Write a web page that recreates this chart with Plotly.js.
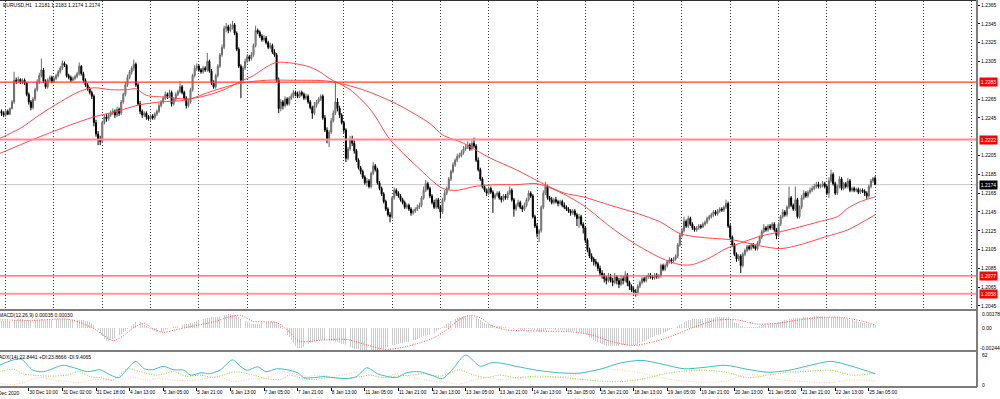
<!DOCTYPE html>
<html><head><meta charset="utf-8">
<script src="https://cdn.plot.ly/plotly-3.0.1.min.js"></script>
<style>html,body{margin:0;padding:0;background:#fff;overflow:hidden}#chart{width:1000px;height:399px}</style>
</head><body><div id="chart"></div>
<script>
// ---- price data (H1 bars), values in pips above 1.2000 ----
const BASE = 1.2, PIP = 0.0001;
const openPips = [
252,250,248,252,249,255,262,285,284,286, 283,285,282,270,262,256,265,275,283,290,
296,284,278,285,288,284,287,290,294,298, 303,301,290,288,285,287,289,292,300,292,
285,280,276,272,268,240,228,222,220,240, 246,244,248,250,252,248,254,250,262,270,
280,288,294,298,302,280,260,252,248,250, 246,244,247,245,249,252,258,262,266,270,
268,272,260,265,270,273,278,272,266,258, 262,275,290,298,300,296,294,298,296,305,
295,282,278,290,300,312,320,340,342,338, 341,344,335,318,300,285,298,305,310,308,
312,322,338,336,332,328,330,325,320,322, 315,312,285,255,262,258,265,260,266,268,
272,270,268,272,270,266,268,262,256,250, 258,262,265,268,245,232,222,230,242,250,
262,255,248,240,232,202,212,222,218,210, 200,192,188,182,176,178,172,186,194,190,
176,170,164,156,148,142,140,160,168,165, 162,158,155,150,152,148,144,146,148,150,
152,160,168,175,170,162,155,150,158,150, 145,158,165,170,180,188,195,200,204,205,
208,212,214,216,212,218,215,200,190,180, 172,168,165,170,166,160,163,165,160,158,
162,160,165,168,158,148,152,155,150,148, 152,158,165,162,140,130,122,125,150,165,
172,160,158,155,158,156,154,156,152,150, 148,146,144,146,142,138,140,132,128,115,
105,98,95,92,90,85,80,78,74,72, 76,72,70,76,72,68,74,72,78,70,
66,62,60,58,66,70,74,72,76,78, 76,75,78,76,77,88,84,88,92,94,
93,95,98,110,120,125,135,130,138,132, 128,126,128,130,129,132,134,138,140,142,
145,143,146,148,147,150,154,130,118,110, 100,95,98,88,100,104,108,106,110,108,
106,112,118,124,128,126,130,128,132,126, 120,132,140,145,142,150,160,152,148,158,
140,150,160,165,162,166,168,170,172,174, 172,173,175,172,165,178,185,175,165,172,
180,170,175,172,178,168,170,168,169,166, 168,167,165,162,172,178,181];
const highPips = [
254,252,253,254,256,264,294,288,289,287, 287,287,283,272,264,267,277,286,293,308,
298,286,287,290,290,289,292,296,300,306, 305,302,292,290,289,291,294,304,301,294,
287,282,278,274,270,243,231,226,242,248, 249,250,253,255,254,257,256,264,272,283,
291,296,300,307,304,282,263,254,252,252, 248,249,249,251,254,261,264,268,273,272,
275,274,267,272,275,284,280,274,268,264, 277,292,301,303,302,298,300,300,314,307,
297,285,292,302,314,323,343,346,344,345, 348,346,337,320,302,300,308,313,312,315,
324,343,340,338,334,333,332,327,325,324, 318,314,288,265,264,268,267,268,271,275,
274,273,274,274,272,271,270,264,258,262, 264,267,270,270,248,235,232,245,253,283,
266,258,250,242,234,214,226,226,221,212, 202,194,190,184,181,180,188,198,196,192,
178,172,166,158,150,145,162,171,170,167, 164,160,157,154,154,150,148,150,153,155,
162,172,179,177,172,164,158,160,160,152, 160,168,172,182,190,198,202,207,208,211,
215,217,220,218,221,224,217,203,192,182, 174,170,172,172,168,165,167,167,162,164,
164,167,172,170,160,154,158,157,152,155, 160,168,167,164,142,133,127,152,168,177,
174,162,161,160,161,158,158,158,155,152, 150,148,148,148,144,143,142,134,130,117,
107,101,97,95,92,88,83,80,77,80, 79,75,80,78,75,78,77,82,80,72,
68,65,63,68,72,76,76,78,80,80, 78,80,80,79,90,90,90,94,97,96,
97,100,112,123,128,140,137,141,140,134, 130,130,132,132,134,136,140,142,144,147,
147,148,150,150,152,158,156,132,120,112, 102,100,100,102,106,110,110,112,112,110,
114,120,126,132,130,132,132,134,134,128, 134,142,148,147,152,172,162,154,172,160,
152,163,168,167,168,171,173,175,177,177, 175,178,177,174,182,190,187,177,174,183,
182,177,177,181,180,172,172,171,171,170, 170,169,167,174,180,182,183];
const lowPips = [
247,246,246,248,248,254,260,281,282,281, 281,280,268,259,253,254,263,273,281,288,
282,276,276,283,282,282,285,288,292,296, 299,288,286,283,284,285,287,290,290,283,
278,274,270,265,236,225,216,216,218,238, 241,242,246,248,245,246,247,248,260,268,
278,286,291,295,278,258,249,245,246,243, 242,242,243,243,247,250,256,260,264,265,
266,257,258,263,268,271,270,264,255,256, 260,273,288,295,294,292,292,294,294,293,
280,276,276,288,298,310,318,336,335,336, 339,333,316,298,266,283,296,303,305,306,
310,320,334,330,326,326,323,318,318,313, 310,283,250,252,254,256,258,258,264,266,
268,266,266,268,264,264,260,254,244,248, 256,260,263,243,230,218,214,228,240,248,
252,245,238,229,198,200,210,215,207,198, 190,185,180,174,172,170,170,184,188,174,
168,162,154,146,140,134,138,158,162,160, 156,153,148,148,146,141,142,144,146,148,
150,158,166,168,160,153,148,148,148,138, 143,156,163,168,178,186,193,198,202,203,
206,210,212,210,210,213,198,188,178,170, 166,162,163,164,144,158,161,158,155,156,
158,158,163,156,140,146,150,148,145,146, 150,156,160,138,128,118,113,123,148,163,
158,156,153,153,154,151,152,150,148,146, 144,141,142,140,130,128,130,122,112,102,
96,92,88,87,82,77,74,70,68,70, 70,66,68,68,64,66,68,70,66,62,
60,57,55,56,64,68,70,70,74,74, 73,73,74,74,75,82,82,86,90,90,
91,93,96,108,118,123,128,128,130,126, 124,124,126,127,128,130,132,136,138,140,
141,141,144,145,145,148,128,116,108,98, 92,93,80,86,98,102,104,104,106,104,
104,110,116,122,124,124,126,126,124,116, 118,130,138,140,140,148,150,146,146,138,
138,148,158,160,160,164,166,168,170,170, 170,171,170,163,160,176,173,163,163,170,
168,168,170,170,166,166,166,166,164,164, 165,162,159,160,170,176,174];
const closePips = [
250,248,252,249,255,262,285,284,286,283, 285,282,270,262,256,265,275,283,290,296,
284,278,285,288,284,287,290,294,298,303, 301,290,288,285,287,289,292,300,292,285,
280,276,272,268,240,228,222,220,240,246, 244,248,250,252,248,254,250,262,270,280,
288,294,298,302,280,260,252,248,250,246, 244,247,245,249,252,258,262,266,270,268,
272,260,265,270,273,278,272,266,258,262, 275,290,298,300,296,294,298,296,305,295,
282,278,290,300,312,320,340,342,338,341, 344,335,318,300,285,298,305,310,308,312,
322,338,336,332,328,330,325,320,322,315, 312,285,255,262,258,265,260,266,268,272,
270,268,272,270,266,268,262,256,250,258, 262,265,268,245,232,222,230,242,250,262,
255,248,240,232,202,212,222,218,210,200, 192,188,182,176,178,172,186,194,190,176,
170,164,156,148,142,140,160,168,165,162, 158,155,150,152,148,144,146,148,150,152,
160,168,175,170,162,155,150,158,150,145, 158,165,170,180,188,195,200,204,205,208,
212,214,216,212,218,215,200,190,180,172, 168,165,170,166,160,163,165,160,158,162,
160,165,168,158,148,152,155,150,148,152, 158,165,162,140,130,122,125,150,165,172,
160,158,155,158,156,154,156,152,150,148, 146,144,146,142,138,140,132,128,115,105,
98,95,92,90,85,80,78,74,72,76, 72,70,76,72,68,74,72,78,70,66,
62,60,58,66,70,74,72,76,78,76, 75,78,76,77,88,84,88,92,94,93,
95,98,110,120,125,135,130,138,132,128, 126,128,130,129,132,134,138,140,142,145,
143,146,148,147,150,154,130,118,110,100, 95,98,88,100,104,108,106,110,108,106,
112,118,124,128,126,130,128,132,126,120, 132,140,145,142,150,160,152,148,158,140,
150,160,165,162,166,168,170,172,174,172, 173,175,172,165,178,185,175,165,172,180,
170,175,172,178,168,170,168,169,166,168, 167,165,162,172,178,181,174];

// moving averages (bar index, pips above 1.2000)
const maFastBars = [-1,9,18,28,37,44,52,60,64,69,79,88,98,107,114,120,126,131,139,147,153,156,166,176,185,198,210,217,225,236,245,255,264,277,290,301,314,323,329,337,345,352,361,371,380,390,398,403,409,416];
const maFastPips = [223,234,248,262,273,277,275,275,276,269,267,265,269,276,284,290,299,304,303,299,292,287,275,253,222,193,170,168,172,174,174,175,168,152,129,112,96,89,89,96,106,112,119,124,129,135,140,149,156,161];
const maSlowBars = [-1,15,31,44,55,66,76,88,101,114,126,139,156,172,188,204,210,220,233,245,258,268,277,290,302,314,323,333,349,361,371,380,393,403,416];
const maSlowPips = [207,222,236,246,252,259,262,264,274,282,285,285,284,275,260,239,227,218,202,190,175,165,161,152,144,134,122,118,115,109,106,110,119,126,142];

// horizontal levels
const levels = [1.2283, 1.2222, 1.2077, 1.2058];
const bidPrice = 1.2174;

// MACD(12,26,9): main (histogram) per bar and signal, in units of 0.00001
const macdMain = [
70,72,74,75,76,78,85,88,90,90, 90,88,84,80,76,76,78,82,86,90, 88,86,86,87,88,89,90,92,94,96, 95,92,90,88,86,85,85,86,82,78, 74,70,66,
55,35,10,-20,-55,-90,-120,
-140,-138,-130,-118,-104,-90,-76,-62,-48,-32,-16,0,
20,40,60,68,62,
45,30,15,5,-8,-20,-30,-40,-45,
-40,-30,-22,-12,-5,0,5,12,20,28, 34,38,40,42,48,56,64,72,80,88, 95,100,104,108,110,112,116,120,126,132, 136,140,142,144,
140,134,124,110,96,84,72,62,54,46,40,38,40,46,
52,58,62,64,66,66,64,55,40,
15,-10,-40,-70,-100,-130,-160,-190,-210,-217,
-212,-200,-185,-172,-160,-150,-142,-136,-132,-130, -130,-132,-134,-136,-138,-140,-145,-150,-158,-166, -175,-185,-195,-205,
-212,-218,-222,-226,-229,-231,-233,-235,-236,-236,-236,-235,-233,-230,-228,
-225,-216,-206,-196,-185,-176,-170,-166,-162,-158, -154,-150,-146,-140,-132,-124,-114,-104,-96,-90, -86,-80,-72,-62,-50,-38,-24,-10,
5,20,36,52,68,82,94,104,112,120,126,130,132,130,
126,120,110,96,80,66,54,44,36,30,26,22,20,18,
15,10,5,2,0,-4,-10,-14,-16,-18,-20,-18,-15,-10,-8,
-15,-25,-38,-45,-40,-30,-18,
-15,-14,-15,-16,-18,-20,-22,-24,-26,-28, -30,-33,-35,-38,-42,-46,-50,-55,
-65,-80,-95,-110,-125,-138,-150,-162,-172,-180, -186,-190,-192,-192,-190,-188,-186,-184,-182,-180, -178,-176,-176,-178,-180,
-172,-162,-150,-140,-128,-118,-108,-98,-88,-80, -72,-64,-50,-40,-30,-20,-12,-5,2,15, 30,45,60,
70,80,86,90,92,94,96,97,98,100, 102,104,106,108,110,112,114,115,116,118,
110,96,80,64,48,36,24,16,10,6,4,4,5,8,12,
18,26,34,40,46,50,54,56,56,60, 66,72,78,86,94,98,100,104,102,104, 108,112,114,116,118,120,121,122,122,122, 121,120,118,118,120,
118,114,110,108,104,100,96,92,88,82, 76,70,65,60,55,50,44,38,36,36,35];
const macdSigBars = [-1,15,31,37,44,49,53,58,63,68,72,77,83,91,101,110,114,120,126,131,136,142,152,164,174,182,190,199,206,212,218,223,228,233,240,250,260,270,280,290,300,310,320,330,340,350,360,370,380,390,400,410,416];
const macdSigVals = [86,79,94,60,-8,-84,-134,-84,3,49,-8,-46,-20,18,64,125,132,68,64,56,-20,-141,-130,-122,-179,-225,-210,-160,-103,-20,87,132,106,30,-20,-30,-35,-40,-70,-140,-185,-150,-80,10,80,85,40,50,85,110,110,70,30];

// ADX(14)
const adxBars = [-1,9,15,20,29,33,36,41,47,52,56,60,64,68,72,77,82,87,90,95,99,104,110,114,117,122,126,131,136,141,144,149,153,158,164,169,174,179,183,188,193,199,206,210,215,221,228,233,237,245,255,265,275,285,295,305,315,325,335,345,355,365,375,385,395,405,416];
const adxVals = [40,53,30,27,40,37,33,27,31,20,15,33,48,33,31,38,31,30,20,25,23,30,51,37,30,37,27,33,31,25,15,15,17,15,13,17,35,23,18,15,25,27,18,13,33,61,38,45,45,38,30,25,24,32,45,50,42,33,36,40,32,26,30,40,48,38,22.8];
const pdiBars = [-1,6,10,15,23,31,37,42,47,53,60,66,74,82,88,95,101,109,112,120,126,133,137,142,149,155,164,171,176,182,188,195,201,209,215,218,225,231,237,245,255,265,275,285,295,305,315,325,335,345,355,365,375,385,395,405,416];
const pdiVals = [27,32,23,20,18,20,27,17,15,10,33,27,20,27,18,20,15,25,27,20,13,11,20,15,11,15,13,17,20,15,18,20,23,18,27,31,20,15,20,15,18,16,12,8,7,12,22,28,30,26,15,20,26,28,30,20,23.9];
const mdiBars = [-1,6,12,18,25,31,37,44,50,56,63,69,75,82,88,95,103,110,120,126,133,139,145,152,158,164,171,176,182,188,196,204,212,218,225,231,237,245,255,265,275,285,295,305,315,325,335,345,355,365,375,385,395,405,416];
const mdiVals = [3,1,7,15,10,7,5,11,10,10,15,10,13,10,9,11,17,7,13,15,27,23,18,20,18,22,27,20,15,23,15,9,5,2,10,15,11,13,15,16,22,32,30,24,14,8,6,8,22,14,9,6,5,10,9.4];

// time axis labels
const timeLabelBars = [13,29,45,61,77,93,109,125,141,157,173,189,205,221,237,253,269,285,301,317,333,349,365,381,397,413];
const timeLabels = ["30 Dec 10:00","31 Dec 02:00","31 Dec 18:00","4 Jan 13:00","5 Jan 05:00","5 Jan 21:00","6 Jan 13:00","7 Jan 05:00","7 Jan 21:00","8 Jan 13:00","11 Jan 05:00","11 Jan 21:00","12 Jan 13:00","13 Jan 05:00","13 Jan 21:00","14 Jan 13:00","15 Jan 05:00","15 Jan 21:00","18 Jan 13:00","19 Jan 05:00","19 Jan 21:00","20 Jan 13:00","21 Jan 05:00","21 Jan 21:00","22 Jan 13:00","25 Jan 05:00"];
const priceTicks = [1.2365,1.2345,1.2325,1.2305,1.2265,1.2245,1.2205,1.2185,1.2165,1.2145,1.2125,1.2105,1.2085,1.2065,1.2045];

// ---- build ----
const toPrice = v => +(BASE + v * PIP).toFixed(5);
const barIdx = closePips.map((_, i) => i);
const FONT = 'Liberation Sans';
const FS = 5.0;

// pixel geometry: plot area y from 1 to 387 (386 px)
const PH = 386, PB = 387;
const pf = y => (PB - y) / PH; // pixel -> paper

const traces = [
  {type:'candlestick', x:barIdx, open:openPips.map(toPrice), high:highPips.map(toPrice),
   low:lowPips.map(toPrice), close:closePips.map(toPrice), xaxis:'x2', yaxis:'y',
   increasing:{line:{color:'#6a6a6a', width:1}, fillcolor:'#b4b4b4'},
   decreasing:{line:{color:'#000000', width:1}, fillcolor:'#000000'},
   whiskerwidth:0, hoverinfo:'skip'},
  {type:'scatter', mode:'lines', x:maFastBars, y:maFastPips.map(toPrice), xaxis:'x2', yaxis:'y',
   line:{color:'#ff4a4a', width:1, shape:'spline', smoothing:0.8}, hoverinfo:'skip'},
  {type:'scatter', mode:'lines', x:maSlowBars, y:maSlowPips.map(toPrice), xaxis:'x2', yaxis:'y',
   line:{color:'#ff4a4a', width:1, shape:'spline', smoothing:0.8}, hoverinfo:'skip'},
  {type:'bar', x:barIdx, y:macdMain.map(v => v * 1e-5), xaxis:'x', yaxis:'y2',
   marker:{color:'#cccccc', line:{width:0}}, width:0.45, hoverinfo:'skip'},
  {type:'scatter', mode:'lines', x:macdSigBars, y:macdSigVals.map(v => v * 1e-5), xaxis:'x', yaxis:'y2',
   line:{color:'#ff4a4a', width:1, dash:'1px,1.5px', shape:'spline', smoothing:0.8}, hoverinfo:'skip'},
  {type:'scatter', mode:'lines', x:mdiBars, y:mdiVals, xaxis:'x', yaxis:'y3',
   line:{color:'#ffc9a8', width:1, dash:'1px,1.5px', shape:'spline', smoothing:0.8}, hoverinfo:'skip'},
  {type:'scatter', mode:'lines', x:pdiBars, y:pdiVals, xaxis:'x', yaxis:'y3',
   line:{color:'#9acd32', width:1, dash:'1px,1.5px', shape:'spline', smoothing:0.8}, hoverinfo:'skip'},
  {type:'scatter', mode:'lines', x:adxBars, y:adxVals, xaxis:'x', yaxis:'y3',
   line:{color:'#40bfbf', width:1, shape:'spline', smoothing:0.8}, hoverinfo:'skip'}
];

const levelStyles = [
  {color:'#ff3a3a', width:1.2},
  {color:'#ff8c8c', width:2},
  {color:'#ff5a5a', width:1.4},
  {color:'#ff9a9a', width:2}
];
const shapes = [];
levels.forEach((lv, k) => shapes.push({type:'line', xref:'paper', yref:'y', x0:0, x1:1, y0:lv, y1:lv,
  line:levelStyles[k], layer:'above'}));
shapes.push({type:'line', xref:'paper', yref:'y', x0:0, x1:1, y0:bidPrice, y1:bidPrice,
  line:{color:'#c8c8c8', width:1}, layer:'below'});
// panel frames
shapes.push({type:'line', xref:'paper', yref:'paper', x0:0, x1:1, y0:pf(0.5), y1:pf(0.5), line:{color:'#303030', width:1}});
[310, 351, 387].forEach(py => shapes.push({type:'line', xref:'paper', yref:'paper', x0:0, x1:1,
  y0:pf(py), y1:pf(py), line:{color:'#7d7d7d', width:2}}));
shapes.push({type:'line', xref:'paper', yref:'paper', x0:1, x1:1, y0:pf(387), y1:pf(0),
  line:{color:'#7d7d7d', width:2}});

const annotations = [];
const boxAnn = (txt, y, bg) => ({xref:'paper', yref:'y', x:1, xshift:1.5, xanchor:'left', y:y, yanchor:'middle',
  text:txt, showarrow:false, bgcolor:bg, borderpad:0.8, font:{family:FONT, size:FS, color:'#ffffff'}});
levels.forEach(lv => annotations.push(boxAnn(lv.toFixed(4), lv, '#ff0000')));
annotations.push(boxAnn(bidPrice.toFixed(4), bidPrice, '#000000'));
annotations.push({xref:'paper', yref:'paper', x:0.5/977, y:pf(5), xanchor:'left', yanchor:'middle',
  text:'EURUSD,H1  1.2181 1.2183 1.2174 1.2174', showarrow:false, font:{family:FONT, size:FS, color:'#000'}});
annotations.push({xref:'paper', yref:'paper', x:-3.2/977, y:pf(315), xanchor:'left', yanchor:'middle',
  text:'MACD(12,26,9) 0.00035 0.00030', showarrow:false, font:{family:FONT, size:FS, color:'#000'}});
annotations.push({xref:'paper', yref:'paper', x:-3.2/977, y:pf(357), xanchor:'left', yanchor:'middle',
  text:'ADX(14) 22.8441 +DI:23.8666 -DI:9.4065', showarrow:false, font:{family:FONT, size:FS, color:'#000'}});
annotations.push({xref:'paper', yref:'paper', x:22/977, y:pf(392.5), xanchor:'right', yanchor:'middle',
  text:'29 Dec 2020', showarrow:false, font:{family:FONT, size:FS, color:'#000'}});
const sideLabel = (txt, yref, y, shift, xs) => ({xref:'paper', yref:yref, x:1, xshift:xs, xanchor:'left', y:y, yshift:shift,
  yanchor:'middle', text:txt, showarrow:false, font:{family:FONT, size:FS, color:'#000'}});
annotations.push(sideLabel('0.00178', 'y2', 0.00178, -3, 2.5));
annotations.push(sideLabel('0.00', 'y2', 0, 0, 2.5));
annotations.push(sideLabel('-0.00244', 'y2', -0.00244, 3.5, 0.5));
annotations.push(sideLabel('62', 'y3', 62, 0, 2.5));
annotations.push(sideLabel('0', 'y3', 0, 0, 2.5));

const layout = {
  width:1000, height:399, margin:{l:0, r:23, t:1, b:12, pad:0},
  paper_bgcolor:'#ffffff', plot_bgcolor:'#ffffff', showlegend:false, hovermode:false, bargap:0,
  font:{family:FONT, size:FS, color:'#000'},
  xaxis:{domain:[0,1], anchor:'y3', range:[-0.71, 464.5], tickmode:'array', tickvals:timeLabelBars, ticktext:timeLabels,
    tickangle:0, ticks:'outside', ticklen:3, tickwidth:1, tickcolor:'#000', ticklabelposition:'outside right',
    ticklabelstandoff:0, showgrid:false, zeroline:false, showline:false, tickfont:{family:FONT, size:4.8, color:'#000'}},
  xaxis2:{matches:'x', anchor:'y', tickmode:'linear', tick0:2, dtick:23, showticklabels:false, ticks:'',
    showgrid:true, gridcolor:'#3a3a3a', griddash:'1px,2px', gridwidth:1, zeroline:false, showline:false,
    rangeslider:{visible:false}},
  yaxis:{domain:[pf(309), 1], range:[1.20418, 1.23693], anchor:'x2', side:'right', tickmode:'array',
    tickvals:priceTicks, ticktext:priceTicks.map(v => v.toFixed(4)), ticks:'outside', ticklen:2, tickcolor:'#000',
    showgrid:false, zeroline:false, showline:false, tickfont:{family:FONT, size:FS, color:'#000'}},
  yaxis2:{domain:[pf(351), pf(311)], range:[-0.00244, 0.00178], anchor:'x', showticklabels:false, ticks:'',
    showgrid:false, zeroline:false, showline:false},
  yaxis3:{domain:[0, pf(352)], range:[-4.1, 67.1], anchor:'x', showticklabels:false, ticks:'',
    showgrid:false, zeroline:false, showline:false},
  shapes:shapes, annotations:annotations
};

Plotly.newPlot('chart', traces, layout, {staticPlot:true, displayModeBar:false});
</script>
</body></html>
